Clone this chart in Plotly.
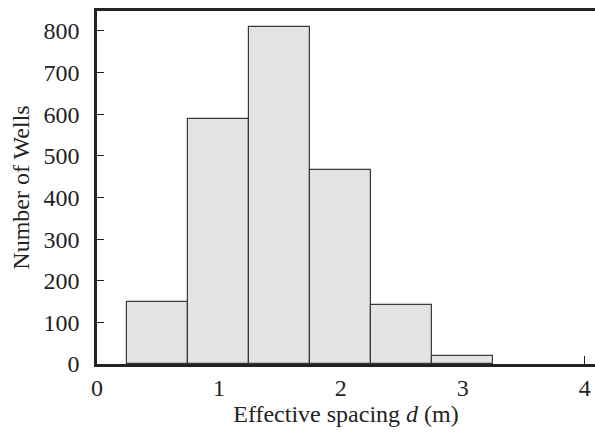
import plotly.graph_objects as go

bin_centers = [0.5, 1.0, 1.5, 2.0, 2.5, 3.0]
bin_width = 0.5
counts = [150, 588, 810, 465, 141, 20]
x_ticks = [0, 1, 2, 3, 4]
y_ticks = [0, 100, 200, 300, 400, 500, 600, 700, 800]

fig = go.Figure()
fig.add_trace(go.Bar(
    x=bin_centers, y=counts, width=[bin_width] * len(bin_centers),
    marker=dict(color="#e2e3e5", line=dict(color="#3a3a3a", width=1.2)),
))

fam = "Liberation Serif, DejaVu Serif, serif"
tickfont = dict(family=fam, size=24, color="#222")
titlefont = dict(family=fam, size=24, color="#222")
fig.update_layout(
    width=595, height=433,
    margin=dict(l=97, r=0, t=11, b=69),
    paper_bgcolor="white", plot_bgcolor="white",
    showlegend=False, font=dict(family=fam, size=20, color="#222"), bargap=0,
    xaxis=dict(range=[0, 4.085], tickvals=x_ticks, ticks="inside", ticklen=8,
               tickcolor="#222", showline=True, linecolor="#222", linewidth=2.5,
               mirror=True, showgrid=False, zeroline=False, automargin=False,
               layer="below traces",
               title=dict(text="Effective spacing <i>d</i> (m)", standoff=4, font=titlefont),
               tickfont=tickfont),
    yaxis=dict(range=[0, 848], tickvals=y_ticks, ticks="inside", ticklen=7,
               tickcolor="#222", showline=True, linecolor="#222", linewidth=2.5,
               showgrid=False, zeroline=False, automargin=False,
               layer="below traces", ticklabelstandoff=10,
               title=dict(text="Number of Wells", standoff=8, font=titlefont),
               tickfont=tickfont),
)
fig.write_html("out.html", config={"displayModeBar": False},
               post_script="document.body.style.margin='0';")
